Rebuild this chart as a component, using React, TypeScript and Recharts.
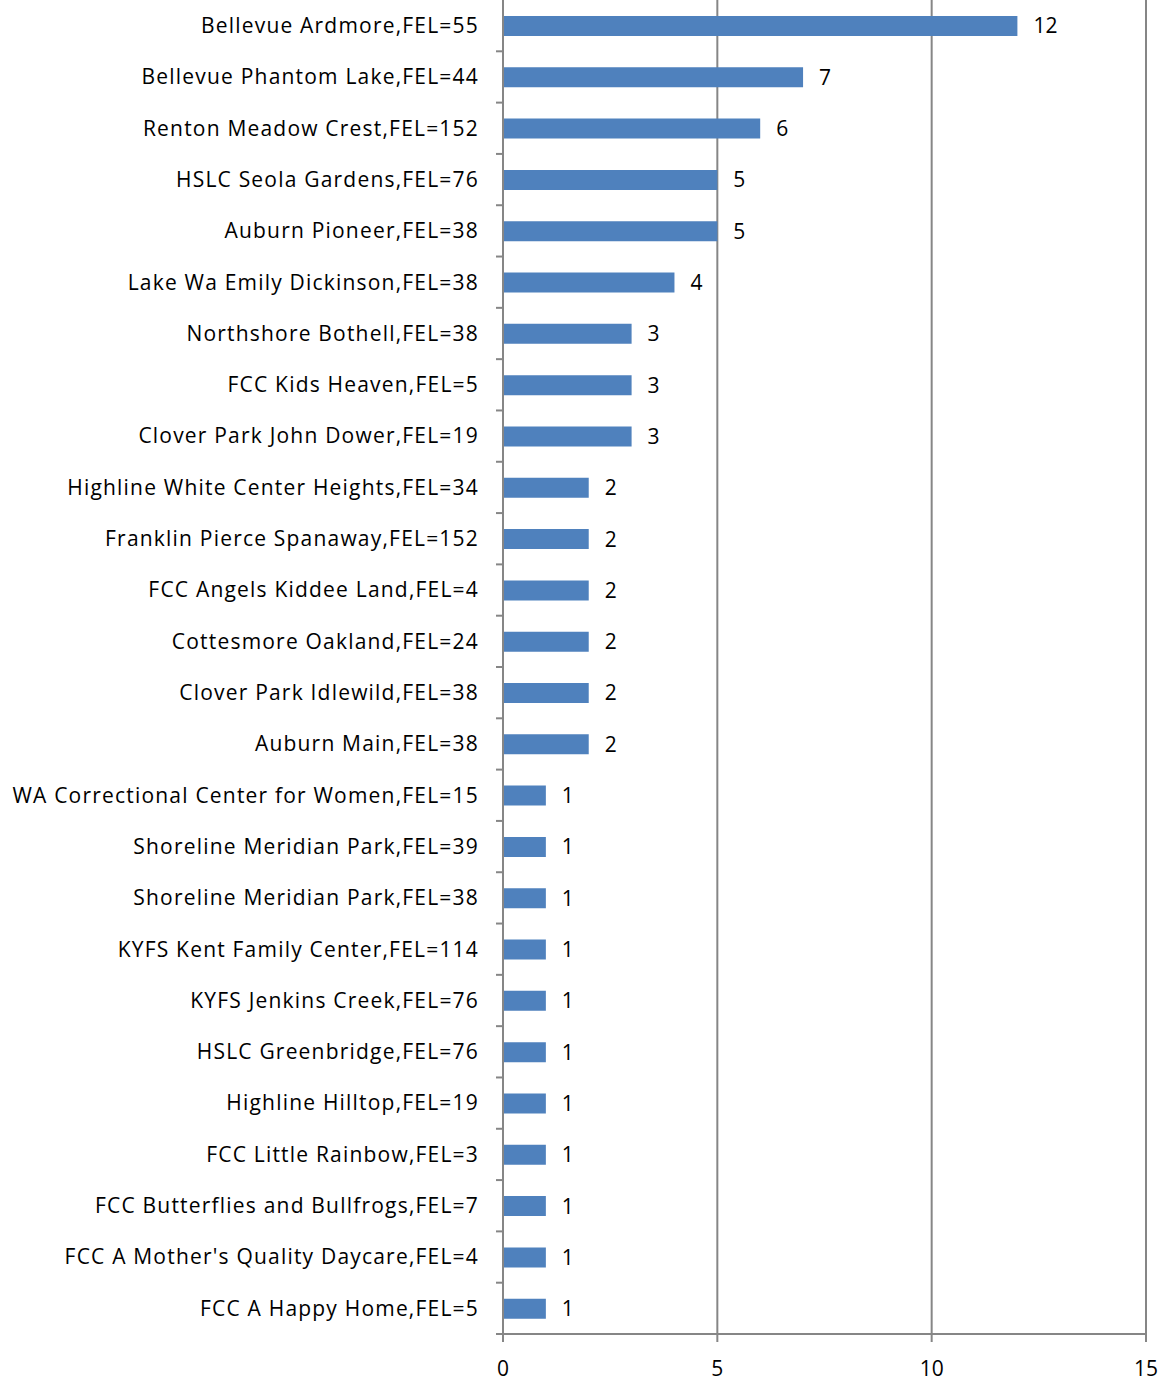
import React from 'react';
import {
  BarChart,
  Bar,
  XAxis,
  YAxis,
  CartesianGrid,
  LabelList,
} from 'recharts';

const sites = [
  'Bellevue Ardmore,FEL=55',
  'Bellevue Phantom Lake,FEL=44',
  'Renton Meadow Crest,FEL=152',
  'HSLC Seola Gardens,FEL=76',
  'Auburn Pioneer,FEL=38',
  'Lake Wa Emily Dickinson,FEL=38',
  'Northshore Bothell,FEL=38',
  'FCC Kids Heaven,FEL=5',
  'Clover Park John Dower,FEL=19',
  'Highline White Center Heights,FEL=34',
  'Franklin Pierce Spanaway,FEL=152',
  'FCC Angels Kiddee Land,FEL=4',
  'Cottesmore Oakland,FEL=24',
  'Clover Park Idlewild,FEL=38',
  'Auburn Main,FEL=38',
  'WA Correctional Center for Women,FEL=15',
  'Shoreline Meridian Park,FEL=39',
  'Shoreline Meridian Park,FEL=38',
  'KYFS Kent Family Center,FEL=114',
  'KYFS Jenkins Creek,FEL=76',
  'HSLC Greenbridge,FEL=76',
  'Highline Hilltop,FEL=19',
  'FCC Little Rainbow,FEL=3',
  'FCC Butterflies and Bullfrogs,FEL=7',
  "FCC A Mother's Quality Daycare,FEL=4",
  'FCC A Happy Home,FEL=5',
];

const counts = [12, 7, 6, 5, 5, 4, 3, 3, 3, 2, 2, 2, 2, 2, 2, 1, 1, 1, 1, 1, 1, 1, 1, 1, 1, 1];

const xTicks = [0, 5, 10, 15];

const data = sites.map((name, i) => ({ name, count: counts[i] }));

const FONT = '"Open Sans", sans-serif';
const AXIS = '#868686';
const PLOT_H = 1334;
const BAND = PLOT_H / sites.length;

const SiteTick = (props: any) => {
  const { x, y, payload } = props;
  return (
    <g>
      <line x1={x + 18} x2={x + 25} y1={y + BAND / 2} y2={y + BAND / 2} stroke={AXIS} strokeWidth={2} />
      <text
        x={x + 1}
        y={y}
        dy="0.35em"
        textAnchor="end"
        fill="#000"
        fontSize={21}
        letterSpacing={1.2}
        fontFamily={FONT}
      >
        {payload.value}
      </text>
    </g>
  );
};

export default function App() {
  return (
    <div style={{ position: 'absolute', left: 0, top: 0, background: '#fff' }}>
      <BarChart
        width={1167}
        height={1380}
        data={data}
        layout="vertical"
        margin={{ top: 0, right: 21, bottom: 0, left: 0 }}
        barCategoryGap={0}
      >
        <CartesianGrid horizontal={false} stroke={AXIS} strokeWidth={2} />
        <XAxis
          type="number"
          domain={[0, 15]}
          ticks={xTicks}
          height={46}
          axisLine={{ stroke: AXIS, strokeWidth: 2 }}
          tickLine={{ stroke: AXIS, strokeWidth: 2 }}
          tickSize={8}
          tickMargin={19}
          tick={{ fill: '#000', fontSize: 21, fontFamily: FONT }}
        />
        <YAxis
          type="category"
          dataKey="name"
          width={503}
          interval={0}
          axisLine={{ stroke: AXIS, strokeWidth: 2 }}
          tickLine={false}
          tickMargin={25}
          tickSize={0}
          tick={<SiteTick />}
        />
        <Bar dataKey="count" fill="#4F81BD" barSize={20} isAnimationActive={false}>
          <LabelList
            dataKey="count"
            position="right"
            offset={16}
            fill="#000"
            fontSize={21}
            fontFamily={FONT}
          />
        </Bar>
      </BarChart>
    </div>
  );
}
